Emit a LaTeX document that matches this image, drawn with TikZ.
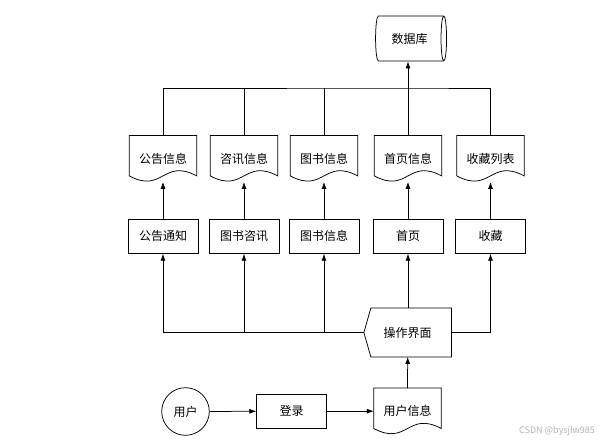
\documentclass[tikz,border=0pt]{standalone}
\usepackage{fontspec}
\newfontfamily\cjk{Noto Sans CJK SC}
\usetikzlibrary{arrows.meta,positioning,calc,shapes.geometric}

\tikzset{
  every node/.style={font=\cjk\fontsize{12}{14}\selectfont},
  ln/.style={line width=0.75pt},
  box/.style={rectangle, draw, ln, minimum width=70, minimum height=34.3, inner sep=0},
  doc/.style={rectangle, minimum width=67, minimum height=46, inner sep=0},
  arr/.style={ln, -{Latex[length=7,width=5]}},
}
% document outline with wavy bottom
\newcommand{\docline}[1]{%
  \draw[ln] ([yshift=6]#1.south west) -- (#1.north west) -- (#1.north east) -- ([yshift=6]#1.south east)
    .. controls ($([yshift=6]#1.south)+(0,-18)$) and ($([yshift=6]#1.south)+(0,18)$) .. ([yshift=6]#1.south west);}

\begin{document}
\begin{tikzpicture}[x=1pt, y=-1pt]
  \useasboundingbox (0,0) rectangle (611,442);
  % data store
  \node (db) at (409.5,38.5) [cylinder, draw, ln, aspect=0.5, minimum width=45, minimum height=71, inner sep=0] {数据库};
  \coordinate (bus) at (408,88);
  % stored information
  \node (d1) at (163,158.7) [doc] {公告信息};
  \node (d2) at (244,158.7) [doc] {咨讯信息};
  \node (d3) at (324,158.7) [doc] {图书信息};
  \node (d4) at (408,158.7) [doc] {首页信息};
  \node (d5) at (490.5,158.7) [doc] {收藏列表};
  \foreach \d in {d1,d2,d3,d4,d5} {\docline{\d}}
  % functions
  \node (gg) at (163,236.2) [box] {公告通知};
  \node (zx) at (244,236.2) [box] {图书咨讯};
  \node (ts) at (324,236.2) [box] {图书信息};
  \node (sy) at (408,236.2) [box] {首页};
  \node (sc) at (490.5,236.2) [box] {收藏};
  % interface
  \node (ui) at (407.7,332.5) [minimum width=87.3, minimum height=48.4, inner sep=0] {操作界面};
  \draw[ln] (ui.west) -- ([xshift=7]ui.north west) -- (ui.north east) -- (ui.south east) -- ([xshift=7]ui.south west) -- cycle;
  % login
  \node (user) at (185.5,411.5) [circle, draw, ln, minimum size=47.6, inner sep=0] {用户};
  \node (dl) at (291.7,411.2) [box] {登录};
  \node (yh) at (407.5,411.3) [doc] {用户信息};
  \docline{yh}

  \draw[arr] (user) -- (dl);
  \draw[arr] (dl.east) -- (dl.east -| yh.west);
  \draw[arr] (yh.north) -- (ui.south);
  \draw[arr] (ui.west) -| (gg.south);
  \draw[arr] (ui.west -| zx.south) -- (zx.south);
  \draw[arr] (ui.west -| ts.south) -- (ts.south);
  \draw[arr] (ui.north -| sy.south) -- (sy.south);
  \draw[arr] (ui.east) -| (sc.south);
  \draw[arr] (gg) -- (d1);
  \draw[arr] (zx) -- (d2);
  \draw[arr] (ts) -- (d3);
  \draw[arr] (sy) -- (d4);
  \draw[arr] (sc) -- (d5);
  \draw[ln] (d1.north) |- (bus) -| (d5.north);
  \draw[ln] (d2.north) -- (d2.north |- bus);
  \draw[ln] (d3.north) -- (d3.north |- bus);
  \draw[arr] (d4.north) -- (d4.north |- db.south);

  \node (wm) at (557,431) [font=\cjk\fontsize{9}{10}\selectfont, text=gray!60] {CSDN @bysjlw985};
\end{tikzpicture}
\end{document}
